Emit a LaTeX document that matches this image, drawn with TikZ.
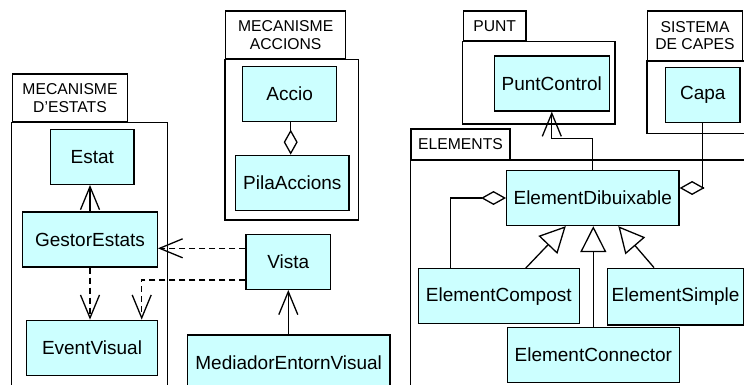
\documentclass[tikz,border=0pt]{standalone}
\usepackage{fontspec}
\setmainfont{Liberation Sans}
\usetikzlibrary{arrows.meta}
\definecolor{clsfill}{RGB}{204,255,255}

\begin{document}
\begin{tikzpicture}[x=1pt, y=-1pt, line width=1.3pt]
    \clip (0,0) rectangle (744,385);

    % Define styles
    \tikzstyle{cls}=[rectangle, draw=black, fill=clsfill, minimum height=55pt, inner sep=0pt, align=center, font=\fontsize{19}{22}\selectfont]
    \tikzstyle{tab}=[rectangle, draw=black, fill=white, inner sep=0pt, align=center, font=\fontsize{15.7}{17.7}\selectfont]
    \tikzstyle{nav}=[-{Straight Barb[length=23pt, width=19pt]}]
    \tikzstyle{dep}=[nav, dash pattern=on 6pt off 4pt]
    \tikzstyle{inh}=[-{Triangle[open, length=26pt, width=26pt]}]
    \tikzstyle{agg}=[{Diamond[open, length=25pt, width=14pt]}-]

    % packages
    \node[tab, minimum width=115.4pt, minimum height=47.7pt] (tEst) at (70,97.8) {MECANISME\\D'ESTATS};
    \draw (tEst.south west) rectangle (167.7,400);
    \node[tab, minimum width=120pt, minimum height=48pt] (tAcc) at (285.7,35) {MECANISME\\ACCIONS};
    \draw (tAcc.south west) rectangle (358.3,220);
    \node[tab, minimum width=62.7pt, minimum height=30pt] (tPunt) at (494.7,26) {PUNT};
    \draw (tPunt.south west) rectangle (615,124);
    \node[tab, minimum width=94.6pt, minimum height=49.3pt] (tCap) at (695,35.7) {SISTEMA\\DE CAPES};
    \draw (tCap.south west) rectangle (760,133.3);
    \node[tab, minimum width=99pt, minimum height=30.3pt] (tElem) at (460.5,144.2) {ELEMENTS};
    \draw (tElem.south west) rectangle (760,400);

    % classes
    \node[cls, minimum width=83.3pt] (estat) at (92.3,156.8) {Estat};
    \node[cls, minimum width=134.6pt] (gestor) at (90,239.5) {GestorEstats};
    \node[cls, minimum width=130.6pt] (event) at (92,347.8) {EventVisual};
    \node[cls, minimum width=94pt] (accio) at (289.7,94.2) {Accio};
    \node[cls, minimum width=113.3pt] (pila) at (292.3,182.8) {PilaAccions};
    \node[cls, minimum width=84.7pt] (vista) at (288.3,261.8) {Vista};
    \node[cls, minimum width=202.7pt] (mediador) at (288.7,362.5) {MediadorEntornVisual};
    \node[cls, minimum width=115pt] (punt) at (551.8,83.5) {PuntControl};
    \node[cls, minimum width=74.3pt] (capa) at (702.8,95.2) {Capa};
    \node[cls, minimum width=172.3pt] (dib) at (592.8,198) {ElementDibuixable};
    \node[cls, minimum width=161pt] (compost) at (498.8,296.2) {ElementCompost};
    \node[cls, minimum width=136.7pt, minimum height=56.7pt] (simple) at (675.6,296.6) {ElementSimple};
    \node[cls, minimum width=172pt] (connector) at (593.3,355) {ElementConnector};

    % relations
    \draw[nav] (gestor.north) -- (gestor.north |- estat.south);
    \draw[dep] (gestor.south) -- (gestor.south |- event.north);
    \draw[dep] ([yshift=13.5pt]vista.west) -- ([yshift=-8.8pt]gestor.east);
    \draw[dep] ([yshift=-18.2pt]vista.west) -| ([xshift=49.7pt]event.north);
    \draw[nav] (mediador.north -| vista.south) -- (vista.south);
    \draw[agg] ([xshift=-1.6pt]pila.north) -- ([xshift=-1.6pt]pila.north |- accio.south);
    \draw[nav] (dib.north) -- ++(0,-31) -| (punt.south);
    \draw[agg] ([yshift=10pt]dib.east) -| (capa.south);
    \draw[agg] (dib.west) -| ([xshift=-48pt]compost.north);
    \draw[inh] ([xshift=27pt]compost.north) -- ([xshift=-27pt]dib.south);
    \draw[inh] (connector.north) -- (connector.north |- dib.south);
    \draw[inh] ([xshift=-21.6pt]simple.north) -- ([xshift=25.5pt]dib.south);
\end{tikzpicture}
\end{document}
